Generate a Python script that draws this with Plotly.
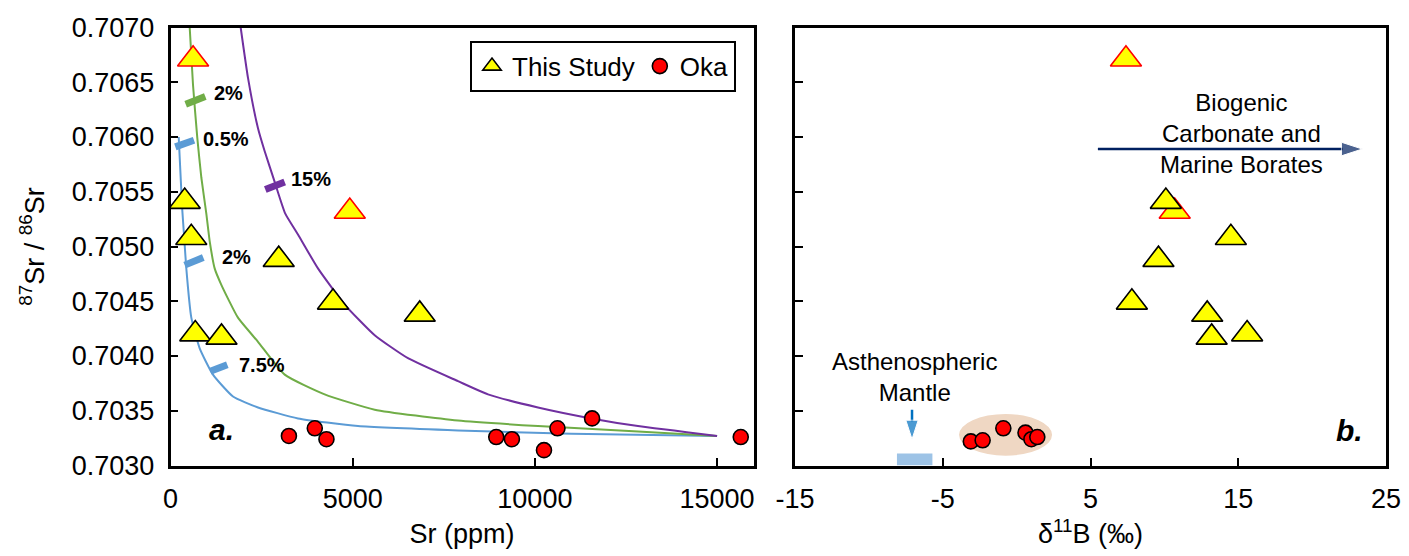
import plotly.graph_objects as go

# ---------------- data ----------------
# This Study samples (red-outlined 0.7053 point listed before the black 0.7054 point so it sits beneath it)
ts_sr = [570, 620, 4920, 390, 2970, 4460, 6840, 680, 1400]
ts_ratio = [0.70508, 0.70671, 0.70532, 0.70541, 0.70488, 0.70449, 0.70438, 0.70420, 0.70417]
ts_d11b = [14.5, 7.4, 10.7, 10.1, 9.6, 7.8, 12.9, 15.6, 13.2]
ts_outline = ["#000000", "#FF0000", "#FF0000", "#000000", "#000000", "#000000", "#000000", "#000000", "#000000"]
ts_d11b_err = [0.45, 0.45, 0.45, 0.45, 0.45, 0.45, 0.45, 0.45, 0.45]

# Oka carbonatites
oka_sr = [3250, 3960, 4280, 8940, 9370, 10250, 10620, 11570, 15650]
oka_ratio = [0.70327, 0.70334, 0.70324, 0.70326, 0.70324, 0.70314, 0.70334, 0.70343, 0.70326]
oka_d11b = [-3.1, -2.3, -0.9, 0.6, 1.0, 1.4]
oka_d11b_ratio = [0.70322, 0.70323, 0.70334, 0.70330, 0.70324, 0.70326]
oka_d11b_err = [0.4, 0.4, 0.4, 0.4, 0.4, 0.4]

# mixing curves
blue_sr = [225, 320, 370, 434, 571, 801, 1166, 1715, 2401, 3499, 5146, 7890, 11000, 15000]
blue_ratio = [0.70600, 0.70535, 0.70511, 0.70480, 0.70435, 0.70407, 0.70383, 0.70363, 0.70353,
              0.70343, 0.70336, 0.70332, 0.70329, 0.70327]
green_sr = [527, 617, 736, 846, 983, 1075, 1212, 1395, 1852, 2401, 3134, 4231, 5604, 7890,
            10085, 12829, 15000]
green_ratio = [0.70700, 0.70648, 0.70599, 0.70563, 0.70530, 0.70505, 0.70480, 0.70465, 0.70435,
               0.70413, 0.70383, 0.70365, 0.70351, 0.70341, 0.70336, 0.70331, 0.70327]
purple_sr = [1926, 2127, 2401, 2585, 2859, 3150, 3499, 4047, 4780, 5604, 6517, 7890, 8713,
             10085, 11547, 12829, 15000]
purple_ratio = [0.70700, 0.70654, 0.70608, 0.70587, 0.70559, 0.70530, 0.70511, 0.70480, 0.70447,
                0.70419, 0.70398, 0.70377, 0.70365, 0.70353, 0.70343, 0.70336, 0.70327]

# mixing percentage tick marks
mix_labels = ["2%", "0.5%", "15%", "2%", "7.5%"]
mix_sr0 = [417, 132, 2602, 390, 1093]
mix_sr1 = [955, 645, 3134, 900, 1559]
mix_r0 = [0.70630, 0.70591, 0.70552, 0.70483, 0.70386]
mix_r1 = [0.70637, 0.70597, 0.70559, 0.70490, 0.70392]
mix_label_sr = [1139, 845, 3244, 1367, 1833]
mix_label_ratio = [0.70640, 0.70598, 0.70562, 0.70490, 0.70392]
mix_colors = ["#70AD47", "#5B9BD5", "#7030A0", "#5B9BD5", "#5B9BD5"]

# right-panel fields
mantle_d11b = [-8.1, -5.7]
mantle_ratio = [0.70300, 0.70311]
oka_field_d11b = [-3.9, 2.4]
oka_field_ratio = [0.70309, 0.70347]
marine_arrow_d11b = [5.5, 23.4]
marine_arrow_ratio = [0.70589, 0.70589]
mantle_arrow_d11b = [-7.08, -7.08]
mantle_arrow_ratio = [0.70351, 0.70324]

x_ticks_sr = [0, 5000, 10000, 15000]
x_ticks_sr_text = ["0", "5000", "10000", "15000"]
x_ticks_b = [-15, -5, 5, 15, 25]
x_ticks_b_text = ["-15", "-5", "5", "15", "25"]
y_ticks = [0.7030, 0.7035, 0.7040, 0.7045, 0.7050, 0.7055, 0.7060, 0.7065, 0.7070]

# ---------------- figure ----------------
FONT = "Liberation Sans, Arial, sans-serif"
W, H = 1409, 556
xl = [162.5 / W, 745.5 / W]
xr = [787 / W, 1378 / W]
yd = [1 - 457.5 / H, 1 - 19.5 / H]

fig = go.Figure()

# curves
for xs, ys, col in [(blue_sr, blue_ratio, "#5B9BD5"), (green_sr, green_ratio, "#70AD47"),
                    (purple_sr, purple_ratio, "#7030A0")]:
    fig.add_trace(go.Scatter(x=xs, y=ys, mode="lines", line=dict(color=col, width=2, shape="spline", smoothing=0.5),
                             showlegend=False, hoverinfo="skip", xaxis="x", yaxis="y"))

# mixing ticks
for i in range(len(mix_labels)):
    fig.add_trace(go.Scatter(x=[mix_sr0[i], mix_sr1[i]], y=[mix_r0[i], mix_r1[i]], mode="lines",
                             line=dict(color=mix_colors[i], width=7), showlegend=False,
                             hoverinfo="skip", xaxis="x", yaxis="y"))
    fig.add_annotation(x=mix_label_sr[i], y=mix_label_ratio[i], xref="x", yref="y", text=mix_labels[i],
                       showarrow=False, xanchor="left", yanchor="middle",
                       font=dict(family=FONT, size=20, color="black", weight="bold"))

# data points left
fig.add_trace(go.Scatter(x=ts_sr, y=ts_ratio, mode="markers", name="This Study",
                         marker=dict(symbol="triangle-up", size=27, color="#FFFF00",
                                     line=dict(color=ts_outline, width=1.6)),
                         xaxis="x", yaxis="y"))
fig.add_trace(go.Scatter(x=oka_sr, y=oka_ratio, mode="markers", name="Oka",
                         marker=dict(symbol="circle", size=15, color="#FF0000",
                                     line=dict(color="black", width=1.6)),
                         xaxis="x", yaxis="y"))

# shapes on right panel
fig.add_shape(type="circle", xref="x2", yref="y2", x0=oka_field_d11b[0], x1=oka_field_d11b[1],
              y0=oka_field_ratio[0], y1=oka_field_ratio[1], fillcolor="#EFD7C3",
              line=dict(width=0), layer="below")
fig.add_shape(type="rect", xref="x2", yref="y2", x0=mantle_d11b[0], x1=mantle_d11b[1],
              y0=mantle_ratio[0], y1=mantle_ratio[1], fillcolor="#9DC3E6",
              line=dict(width=0), layer="below")

# arrows (line + arrow-head marker)
fig.add_trace(go.Scatter(x=marine_arrow_d11b, y=marine_arrow_ratio, mode="lines+markers",
                         line=dict(color="#002060", width=2.5),
                         marker=dict(symbol="arrow", size=[0, 22], angleref="previous", color="#002060"),
                         showlegend=False, hoverinfo="skip", xaxis="x2", yaxis="y2"))
fig.add_trace(go.Scatter(x=mantle_arrow_d11b, y=mantle_arrow_ratio, mode="lines+markers",
                         line=dict(color="#0070C0", width=2.5),
                         marker=dict(symbol="arrow", size=[0, 20], angleref="previous", color="#0070C0"),
                         showlegend=False, hoverinfo="skip", xaxis="x2", yaxis="y2"))

# data points right
fig.add_trace(go.Scatter(x=ts_d11b, y=ts_ratio, mode="markers", showlegend=False,
                         error_x=dict(type="data", array=ts_d11b_err, color="#808080", thickness=1.5, width=4),
                         marker=dict(symbol="triangle-up", size=27, color="#FFFF00",
                                     line=dict(color=ts_outline, width=1.6)),
                         xaxis="x2", yaxis="y2"))
fig.add_trace(go.Scatter(x=oka_d11b, y=oka_d11b_ratio, mode="markers", showlegend=False,
                         error_x=dict(type="data", array=oka_d11b_err, color="#808080", thickness=1.5, width=4),
                         marker=dict(symbol="circle", size=15, color="#FF0000",
                                     line=dict(color="black", width=1.6)),
                         xaxis="x2", yaxis="y2"))

fig.add_annotation(x=15.2, y=0.70603, xref="x2", yref="y2", showarrow=False,
                   text="Biogenic<br>Carbonate and<br>Marine Borates",
                   font=dict(family=FONT, size=24, color="black"), align="center")
fig.add_annotation(x=-6.9, y=0.70381, xref="x2", yref="y2", showarrow=False,
                   text="Asthenospheric<br>Mantle",
                   font=dict(family=FONT, size=24, color="black"), align="center")

# panel labels
fig.add_annotation(x=1386, y=0.70333, xref="x", yref="y", text="<b><i>a.</i></b>", showarrow=False,
                   font=dict(family=FONT, size=30, color="black"))
fig.add_annotation(x=22.5, y=0.70332, xref="x2", yref="y2", text="<b><i>b.</i></b>", showarrow=False,
                   font=dict(family=FONT, size=30, color="black"))

axis_common = dict(showline=True, linecolor="black", linewidth=2.5, mirror=True, ticks="inside",
                   ticklen=8, tickwidth=2, tickcolor="black", showgrid=False, zeroline=False,
                   tickfont=dict(family=FONT, size=27, color="black"), automargin=False)

fig.update_layout(
    width=W, height=H, margin=dict(l=0, r=0, t=0, b=0),
    paper_bgcolor="white", plot_bgcolor="white",
    font=dict(family=FONT, color="black"),
    xaxis=dict(domain=xl, range=[0, 16000], tickvals=x_ticks_sr, ticktext=x_ticks_sr_text, anchor="y",
               title=dict(text="Sr (ppm)", font=dict(family=FONT, size=27), standoff=12),
               ticklabelstandoff=7, **axis_common),
    yaxis=dict(domain=yd, range=[0.7030, 0.7070], tickvals=y_ticks, tickformat=".4f", anchor="x",
               title=dict(text="<sup>87</sup>Sr / <sup>86</sup>Sr", font=dict(family=FONT, size=27), standoff=20),
               ticklabelstandoff=8, **axis_common),
    xaxis2=dict(domain=xr, range=[-15, 25], tickvals=x_ticks_b, ticktext=x_ticks_b_text, anchor="y2",
                title=dict(text="δ<sup>11</sup>B (‰)", font=dict(family=FONT, size=27), standoff=12),
                ticklabelstandoff=7, **axis_common),
    yaxis2=dict(domain=yd, range=[0.7030, 0.7070], tickvals=y_ticks, showticklabels=False, anchor="x2",
                **axis_common),
    legend=dict(orientation="h", x=462 / W, y=1 - 32.7 / H, xanchor="left", yanchor="top",
                bgcolor="white", bordercolor="black", borderwidth=2,
                font=dict(family=FONT, size=26, color="black")),
)

fig.write_html("out.html")
